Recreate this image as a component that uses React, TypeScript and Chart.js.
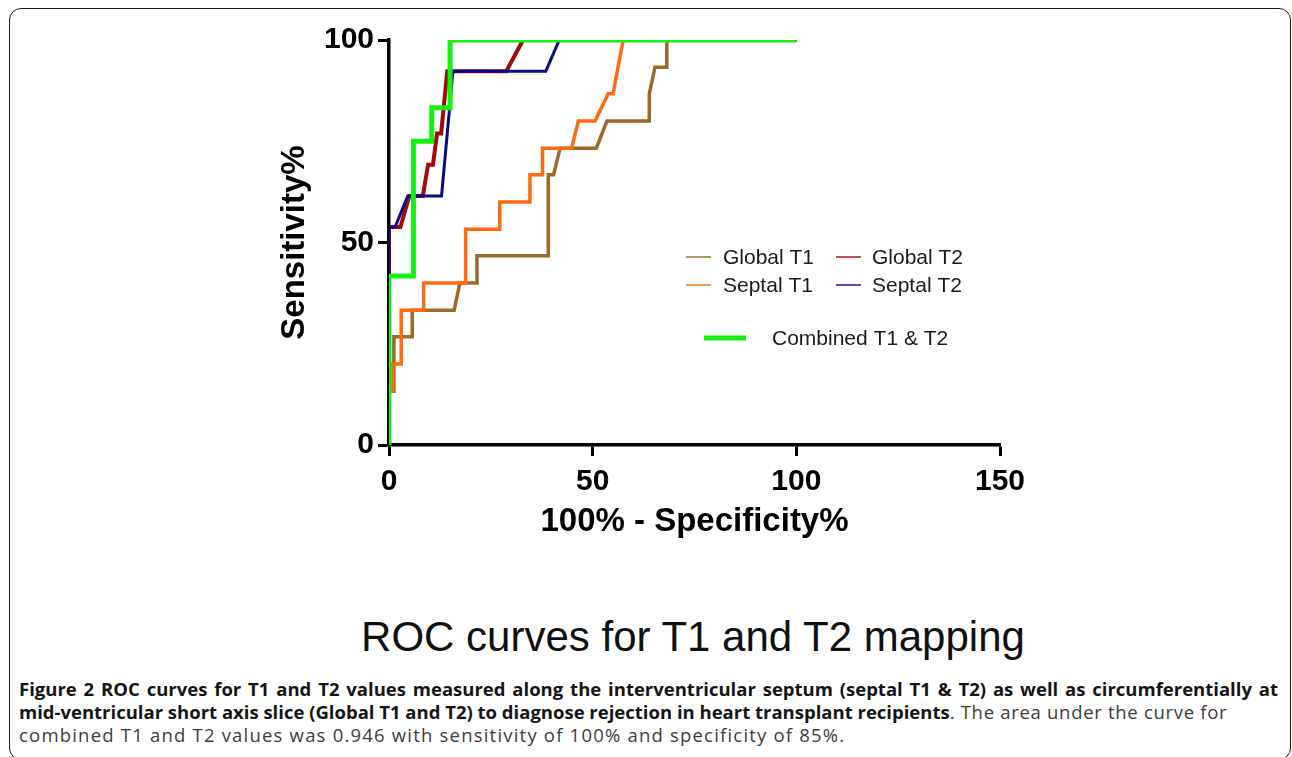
import React, { useEffect, useRef } from "react";
import { Chart, registerables } from "chart.js";

Chart.register(...registerables);

// ---- data ----
const xTickValues = [0, 50, 100, 150];
const yTickValues = [0, 50, 100];

const combinedX = [0, 0, 6, 6, 10.5, 10.5, 15, 15, 100];
const combinedY = [0, 41.7, 41.7, 75, 75, 83.3, 83.3, 100, 100];

const septalT2X = [0, 0, 1.5, 4.6, 12.9, 15.7, 38.5, 41.8, 100];
const septalT2Y = [0, 53.8, 53.8, 61.5, 61.5, 92.3, 92.3, 100, 100];

const globalT2X = [0, 0, 2.8, 5, 8.3, 9.6, 10.8, 11.8, 12.8, 14.3, 28.8, 32.9, 100];
const globalT2Y = [0, 53.8, 53.8, 61.5, 61.5, 69.2, 69.2, 76.9, 76.9, 92.3, 92.3, 100, 100];

const septalT1X = [0, 0, 0.9, 0.9, 3, 3, 8.5, 8.5, 18.8, 18.8, 27.2, 27.2, 34.6, 34.6, 37.7, 37.7, 44.8, 46.5, 50.6, 53.8, 55, 57.5, 100];
const septalT1Y = [0, 13.3, 13.3, 20, 20, 33.3, 33.3, 40, 40, 53.3, 53.3, 60, 60, 66.7, 66.7, 73.3, 73.3, 80, 80, 86.7, 86.7, 100, 100];

const globalT1X = [0, 0, 1.2, 1.2, 5.7, 5.7, 16, 17.4, 21.6, 21.6, 39.1, 39.1, 40.4, 42, 50.9, 53.5, 63.9, 63.9, 65.3, 68.2, 68.2, 100];
const globalT1Y = [0, 13.3, 13.3, 26.7, 26.7, 33.3, 33.3, 40, 40, 46.7, 46.7, 66.7, 66.7, 73.3, 73.3, 80, 80, 86.7, 93.3, 93.3, 100, 100];

const seriesLabels = ["Combined T1 & T2", "Septal T2", "Global T2", "Septal T1", "Global T1"];
const seriesColors = ["#14f014", "#0a0a86", "#a00a0a", "#ff6a10", "#9a6a2c"];
const seriesWidths = [5, 3, 4, 3.5, 3.5];

const chartTitle = "ROC curves for T1 and T2 mapping";
const xTitle = "100% - Specificity%";
const yTitle = "Sensitivity%";

const FONT = "'Liberation Sans', Arial, sans-serif";

function toPoints(xs: number[], ys: number[]) {
  return xs.map((x, i) => ({ x, y: ys[i] }));
}

// GraphPad-style legend drawn inside the plot area
const rocLegend = {
  id: "rocLegend",
  afterDatasetsDraw(chart: any) {
    const { ctx, chartArea } = chart;
    const L = chartArea.left;
    const T = chartArea.top;
    const find = (label: string) => chart.data.datasets.find((d: any) => d.label === label);
    const items = [
      { label: "Global T1", lx: 297, tx: 334, y: 217, len: 25, w: 2 },
      { label: "Global T2", lx: 447, tx: 483, y: 217, len: 25, w: 2 },
      { label: "Septal T1", lx: 297, tx: 334, y: 245, len: 25, w: 2 },
      { label: "Septal T2", lx: 447, tx: 483, y: 245, len: 25, w: 2 },
      { label: "Combined T1 & T2", lx: 315, tx: 383, y: 298, len: 42, w: 5 },
    ];
    ctx.save();
    ctx.font = `21px ${FONT}`;
    ctx.textBaseline = "middle";
    ctx.textAlign = "left";
    for (const it of items) {
      const ds = find(it.label);
      ctx.globalAlpha = it.w < 3 ? 0.7 : 1;
      ctx.strokeStyle = ds ? ds.borderColor : "#000";
      ctx.lineWidth = it.w;
      ctx.beginPath();
      ctx.moveTo(L + it.lx, T + it.y);
      ctx.lineTo(L + it.lx + it.len, T + it.y);
      ctx.stroke();
      ctx.globalAlpha = 1;
      ctx.fillStyle = "#1a1a1a";
      ctx.fillText(it.label, L + it.tx, T + it.y + 1);
    }
    ctx.restore();
  },
};

export default function App() {
  const canvasRef = useRef<HTMLCanvasElement | null>(null);

  useEffect(() => {
    const canvas = canvasRef.current;
    if (!canvas) return;
    const xs = [combinedX, septalT2X, globalT2X, septalT1X, globalT1X];
    const ys = [combinedY, septalT2Y, globalT2Y, septalT1Y, globalT1Y];
    const chart = new Chart(canvas, {
      type: "scatter",
      data: {
        datasets: seriesLabels.map((label, i) => ({
          label,
          data: toPoints(xs[i], ys[i]),
          showLine: true,
          borderColor: seriesColors[i],
          backgroundColor: seriesColors[i],
          borderWidth: seriesWidths[i],
          pointRadius: 0,
          pointHoverRadius: 0,
          tension: 0,
          fill: false,
          borderJoinStyle: "miter",
          borderCapStyle: "butt",
        })),
      },
      options: {
        responsive: false,
        maintainAspectRatio: false,
        animation: false,
        events: [],
        layout: { padding: { left: 259, right: 292, top: 40, bottom: 0 } },
        plugins: {
          legend: { display: false },
          tooltip: { enabled: false },
          title: { display: false },
        },
        scales: {
          x: {
            type: "linear",
            min: 0,
            max: 150,
            afterBuildTicks: (s: any) => {
              s.ticks = xTickValues.map((v) => ({ value: v }));
            },
            afterFit: (s: any) => {
              s.height = 115;
            },
            grid: {
              display: true,
              drawOnChartArea: false,
              drawTicks: true,
              tickLength: 11,
              tickWidth: 3,
              tickColor: "#000",
              color: "#000",
            },
            border: { display: true, color: "#000", width: 3.5 },
            ticks: {
              color: "#000",
              padding: 8,
              maxRotation: 0,
              autoSkip: false,
              font: { family: FONT, size: 30, weight: "bold" },
            },
            title: {
              display: true,
              text: xTitle,
              color: "#000",
              font: { family: FONT, size: 33, weight: "bold" },
              padding: { top: 0, bottom: 18 },
            },
          },
          y: {
            type: "linear",
            min: 0,
            max: 100,
            afterBuildTicks: (s: any) => {
              s.ticks = yTickValues.map((v) => ({ value: v }));
            },
            afterFit: (s: any) => {
              s.width = 130;
            },
            grid: {
              display: true,
              drawOnChartArea: false,
              drawTicks: true,
              tickLength: 11,
              tickWidth: 3,
              tickColor: "#000",
              color: "#000",
            },
            border: { display: true, color: "#000", width: 3.5 },
            ticks: {
              color: "#000",
              padding: 4,
              autoSkip: false,
              font: { family: FONT, size: 30, weight: "bold" },
            },
            title: {
              display: true,
              text: yTitle,
              color: "#000",
              font: { family: FONT, size: 33, weight: "bold" },
              padding: { top: 16, bottom: 0 },
            },
          },
        },
      },
      plugins: [rocLegend],
    } as any);
    return () => chart.destroy();
  }, []);

  const captionFont = "'Open Sans', 'Noto Sans', sans-serif";

  return (
    <div
      style={{
        position: "fixed",
        left: 0,
        top: 0,
        width: 1292,
        height: 757,
        overflow: "hidden",
        background: "#fff",
      }}
    >
      <div
        style={{
          position: "absolute",
          left: 9,
          top: 8,
          width: 1282,
          height: 752,
          boxSizing: "border-box",
          border: "1.5px solid #1a1a1a",
          borderRadius: 12,
        }}
      />
      <canvas
        ref={canvasRef}
        width={1292}
        height={560}
        style={{ position: "absolute", left: 0, top: 0, width: 1292, height: 560 }}
      />
      <div
        style={{
          position: "absolute",
          left: 693,
          top: 612,
          transform: "translateX(-50%)",
          whiteSpace: "nowrap",
          font: `42px ${FONT}`,
          lineHeight: "50px",
          color: "#111",
        }}
      >
        {chartTitle}
      </div>
      <div
        style={{
          position: "absolute",
          left: 19,
          top: 677,
          width: 1259,
          fontFamily: captionFont,
          fontSize: 18.5,
          lineHeight: "23px",
          color: "#3c3c3c",
        }}
      >
        <div
          style={{
            textAlign: "justify",
            textAlignLast: "justify",
            fontWeight: 700,
            color: "#151515",
            height: 23,
            overflow: "visible",
          }}
        >
          Figure 2 ROC curves for T1 and T2 values measured along the interventricular septum (septal T1 &amp; T2) as well as circumferentially at
        </div>
        <div style={{ whiteSpace: "nowrap" }}>
          <span style={{ fontWeight: 700, color: "#151515" }}>
            mid-ventricular short axis slice (Global T1 and T2) to diagnose rejection in heart transplant recipients
          </span>
          <span style={{ letterSpacing: "0.7px" }}>. The area under the curve for</span>
        </div>
        <div style={{ whiteSpace: "nowrap", letterSpacing: "1.2px" }}>
          combined T1 and T2 values was 0.946 with sensitivity of 100% and specificity of 85%.
        </div>
      </div>
    </div>
  );
}
